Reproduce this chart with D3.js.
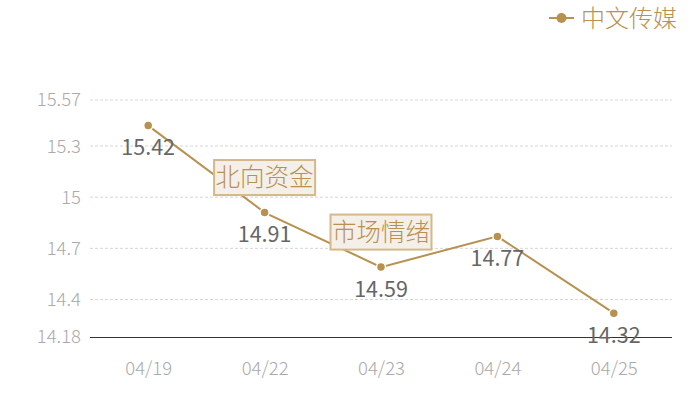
<!DOCTYPE html>
<html>
<head>
<meta charset="utf-8">
<script src="https://cdn.jsdelivr.net/npm/d3@7"></script>
<style>
  body { margin: 0; background: #fff; }
  svg { display: block; font-family: "Noto Sans CJK SC", "Noto Sans", sans-serif; }
</style>
</head>
<body>
<svg id="chart" width="700" height="400"></svg>
<script>
// data
const dates = ["04/19", "04/22", "04/23", "04/24", "04/25"];
const prices = [15.42, 14.91, 14.59, 14.77, 14.32];
const yTicks = [14.18, 14.4, 14.7, 15, 15.3, 15.57];
const noteDates = ["04/22", "04/23"];
const noteTexts = ["北向资金", "市场情绪"];
const seriesName = "中文传媒";

const width = 700, height = 400;
const margin = { top: 100, right: 28, bottom: 63, left: 90 };
const gold = "#b8914f";

const svg = d3.select("#chart");

const x = d3.scalePoint()
  .domain(dates)
  .range([margin.left, width - margin.right])
  .padding(0.5);

const y = d3.scaleLinear()
  .domain([d3.min(yTicks), d3.max(yTicks)])
  .range([height - margin.bottom, margin.top]);

// grid lines
svg.append("g")
  .selectAll("line")
  .data(yTicks.slice(1))
  .join("line")
  .attr("x1", margin.left)
  .attr("x2", width - margin.right)
  .attr("y1", d => y(d))
  .attr("y2", d => y(d))
  .attr("stroke", "#d6d6d6")
  .attr("stroke-dasharray", "3,2");

// y axis labels
svg.append("g")
  .selectAll("text")
  .data(yTicks)
  .join("text")
  .attr("x", margin.left - 9)
  .attr("y", d => y(d))
  .attr("dy", "0.35em")
  .attr("text-anchor", "end")
  .attr("fill", "#aaaaaa")
  .attr("font-size", 18.5)
  .attr("font-weight", 300)
  .text(d => d);

// x axis
const xAxis = svg.append("g")
  .attr("transform", `translate(0,${height - margin.bottom})`)
  .call(d3.axisBottom(x).tickSize(0).tickPadding(25));
xAxis.select(".domain")
  .attr("d", `M${margin.left},0.5H${width - margin.right}`)
  .attr("stroke", "#333");
xAxis.selectAll("text")
  .attr("fill", "#aaaaaa")
  .attr("font-size", 18.5)
  .attr("font-weight", 300)
  .attr("font-family", "'Noto Sans CJK SC', sans-serif");

// line
const pts = dates.map((d, i) => ({ date: d, value: prices[i] }));
svg.append("path")
  .datum(pts)
  .attr("fill", "none")
  .attr("stroke", gold)
  .attr("stroke-width", 2)
  .attr("d", d3.line().x(d => x(d.date)).y(d => y(d.value)));

svg.append("g")
  .selectAll("circle")
  .data(pts)
  .join("circle")
  .attr("cx", d => x(d.date))
  .attr("cy", d => y(d.value))
  .attr("r", 4.5)
  .attr("fill", gold)
  .attr("stroke", "#fff")
  .attr("stroke-width", 1.5);

// value labels
svg.append("g")
  .selectAll("text")
  .data(pts)
  .join("text")
  .attr("x", d => x(d.date))
  .attr("y", d => y(d.value) + 22)
  .attr("dy", "0.35em")
  .attr("text-anchor", "middle")
  .attr("fill", "#666")
  .attr("font-size", 21.5)
  .text(d => d.value.toFixed(2));

// annotations above points
const notes = noteDates.map((d, i) => ({ date: d, text: noteTexts[i], value: prices[dates.indexOf(d)] }));
const ng = svg.append("g")
  .selectAll("g")
  .data(notes)
  .join("g")
  .attr("transform", d => `translate(${x(d.date)},${y(d.value) - 35})`);
ng.append("rect")
  .attr("x", -50.5)
  .attr("y", -17.5)
  .attr("width", 101)
  .attr("height", 35)
  .attr("fill", "#f4efe8")
  .attr("stroke", "#d4b88a")
  .attr("stroke-width", 2);
ng.append("text")
  .attr("text-anchor", "middle")
  .attr("dy", "0.36em")
  .attr("fill", "#b8914f")
  .attr("font-size", 24.5)
  .attr("font-weight", 300)
  .text(d => d.text);

// legend
const lg = svg.append("g").attr("transform", "translate(549,18)");
lg.append("line").attr("x1", 0).attr("x2", 25).attr("stroke", gold).attr("stroke-width", 2);
lg.append("circle").attr("cx", 12.5).attr("r", 5).attr("fill", gold);
lg.append("text")
  .attr("x", 32)
  .attr("dy", "0.36em")
  .attr("fill", gold)
  .attr("font-size", 24)
  .attr("font-weight", 300)
  .text(seriesName);
</script>
</body>
</html>
